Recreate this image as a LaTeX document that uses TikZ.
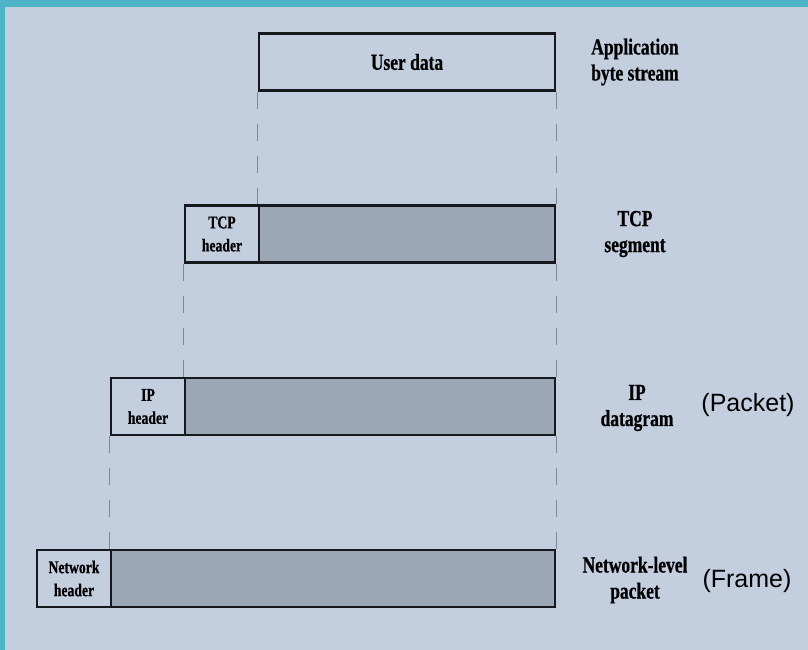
\documentclass[tikz,border=0pt]{standalone}
\usepackage{fontspec}
\newfontfamily\boxfont[FakeStretch=0.76,FakeBold=0.6]{Liberation Serif}
\newfontfamily\tagfont{Liberation Sans}
\definecolor{page}{HTML}{C3CFDF}
\definecolor{rim}{HTML}{4DB4C8}
\definecolor{shade}{HTML}{9CA7B5}
\definecolor{edge}{HTML}{15191E}
\definecolor{guidegray}{HTML}{7E8894}
\tikzset{
  cell/.style={draw=edge, line width=2.8pt, minimum height=57pt, inner sep=0pt,
    align=center, font=\boxfont\bfseries\fontsize{18}{23}\selectfont},
  hdr/.style={cell, fill=page, minimum width=74pt},
  body/.style={cell, fill=shade},
  plain/.style={cell, fill=page, font=\boxfont\bfseries\fontsize{23}{26}\selectfont},
  lbl/.style={align=center, inner sep=0pt, font=\boxfont\bfseries\fontsize{23}{26}\selectfont},
  tag/.style={inner sep=0pt, font=\tagfont\fontsize{25}{30}\selectfont},
  guide/.style={draw=guidegray, line width=1.1pt, dash pattern=on 17pt off 15pt}
}
\begin{document}
\begin{tikzpicture}[x=1pt,y=-1pt]
  % page with its coloured rim along the top and left
  \fill[page] (0,0) rectangle (808,650);
  \fill[rim] (0,0) rectangle (808,7);
  \fill[rim] (0,0) rectangle (5,650);
  \useasboundingbox (0,0) rectangle (808,650);

  % application data
  \node[plain, minimum width=296pt] (user) at (407,62) {User data};

  % TCP segment
  \node[hdr] (tcph) at (222,234) {TCP\\header};
  \node[body, minimum width=296pt] (tcpb) at (407,234) {};

  % IP datagram
  \node[hdr] (iph) at (148,406.5) {IP\\header};
  \node[body, minimum width=370pt] (ipb) at (370,406.5) {};

  % network-level packet
  \node[hdr] (neth) at (74,578.5) {Network\\header};
  \node[body, minimum width=444pt] (netb) at (333,578.5) {};

  % dashed guides between layers
  \draw[guide] (user.south west) -- (tcpb.north west);
  \draw[guide] (user.south east) -- (tcpb.north east);
  \draw[guide] (tcph.south west) -- (ipb.north west);
  \draw[guide] (tcpb.south east) -- (ipb.north east);
  \draw[guide] (iph.south west) -- (netb.north west);
  \draw[guide] (ipb.south east) -- (netb.north east);

  % layer names
  \node[lbl] (applbl) at (635,62) {Application\\byte stream};
  \node[lbl] (tcplbl) at (635,234) {TCP\\segment};
  \node[lbl] (iplbl) at (637,408) {IP\\datagram};
  \node[lbl] (netlbl) at (635,580) {Network-level\\packet};
  \node[tag] (pkt) at (748,405) {(Packet)};
  \node[tag] (frm) at (747,581) {(Frame)};
\end{tikzpicture}
\end{document}
